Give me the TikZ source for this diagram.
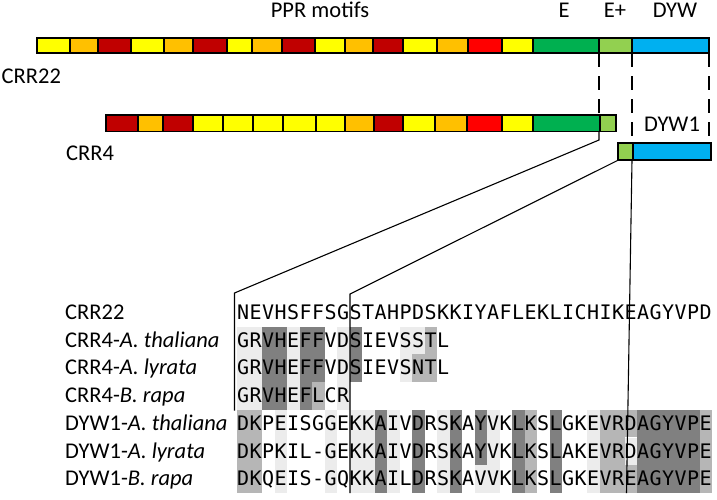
\documentclass[tikz,border=0pt]{standalone}
\usepackage{fontspec}
\setmainfont{Carlito}
\newfontfamily\alfont{DejaVu Sans Mono}
\definecolor{cy}{RGB}{255,255,0}
\definecolor{co}{RGB}{255,192,0}
\definecolor{cdr}{RGB}{192,0,0}
\definecolor{cr}{RGB}{255,0,0}
\definecolor{cg}{RGB}{0,176,80}
\definecolor{clg}{RGB}{146,208,80}
\definecolor{cb}{RGB}{0,176,240}
\definecolor{shl}{RGB}{236,236,236}
\definecolor{shm}{RGB}{182,182,182}
\definecolor{shd}{RGB}{128,128,128}
\newcommand\alrow[2]{\foreach \ch [count=\i from 0] in {#2} {\node[aa] (r#1c\i) at ({243.25+12.5*\i},{319.5+27.7*#1}) {\ch};}}
\newcommand\albox[5]{\fill[#5] ({237+12.5*#1},{299+27.7*#3}) rectangle ({237+12.5*(#2+1)},{326.5+27.7*#4});}
\begin{document}
\begin{tikzpicture}[x=1pt,y=-1pt,
  barseg/.style={draw=black, line width=1.6pt},
  lbl/.style={font=\fontsize{22.5}{26}\selectfont, inner sep=0pt, anchor=base},
  lblw/.style={lbl, anchor=base west},
  aa/.style={font=\alfont\fontsize{20}{22}\selectfont, inner sep=0pt, anchor=base},
  conn/.style={line width=1.1pt},
  dashconn/.style={line width=1.6pt, dash pattern=on 14pt off 9pt}]
\useasboundingbox (0,0) rectangle (717,499);

% ---- bars
\foreach \a/\b/\col in {37/70/cy, 70/98/co, 98/131/cdr, 131/164/cy, 164/193/co, 193/227/cdr, 227/252/cy, 252/282/co, 282/315/cdr, 315/345/cy, 345/373/co, 373/403/cdr, 403/437/cy, 437/468/co, 468/502/cr, 502/533/cy, 533/599/cg, 599/632/clg, 632/709/cb}
  \filldraw[barseg, fill=\col] (\a,38) rectangle (\b,53);
\foreach \a/\b/\col in {106/138/cdr, 138/163/co, 163/193/cdr, 193/223/cy, 223/253/cy, 253/283/cy, 283/316/cy, 316/345/cy, 345/374/co, 374/403/cdr, 403/435/cy, 435/467/co, 467/502/cr, 502/533/cy, 533/600/cg, 600/616/clg}
  \filldraw[barseg, fill=\col] (\a,115) rectangle (\b,131.5);
\foreach \a/\b/\col in {618/633/clg, 633/711/cb}
  \filldraw[barseg, fill=\col] (\a,143) rectangle (\b,160);

% ---- top labels
\node[lbl] (ppr) at (320,17.5) {PPR motifs};
\node[lbl] (le) at (564,17.5) {E};
\node[lbl] (lep) at (615,17.5) {E+};
\node[lbl] (ldyw) at (675,17.5) {DYW};
\node[lblw] (lcrr22) at (1.5,83) {CRR22};
\node[lblw] (lcrr4) at (66,160.5) {CRR4};
\node[lbl] (ldyw1) at (672,131.5) {DYW1};

% ---- alignment shading
% CRR4 block
\albox{0}{1}{1}{3}{shl}
\albox{2}{3}{1}{3}{shd}
\albox{4}{4}{1}{3}{shl}
\albox{5}{5}{1}{3}{shd}
\albox{6}{6}{1}{2}{shd}
\albox{6}{6}{3}{3}{shm}
\albox{8}{8}{1}{3}{shl}
\albox{9}{9}{1}{2}{shd}
\albox{13}{13}{1}{2}{shl}
\albox{14}{14}{1}{1}{shl}
\albox{14}{14}{2}{2}{shm}
\albox{15}{15}{1}{2}{shm}
% DYW1 block
\albox{0}{1}{4}{6}{shm}
\albox{3}{3}{4}{6}{shl}
\albox{7}{7}{4}{6}{shl}
\albox{9}{10}{4}{6}{shl}
\albox{11}{11}{4}{6}{shd}
\albox{12}{12}{4}{6}{shl}
\albox{14}{14}{4}{6}{shd}
\albox{16}{16}{4}{6}{shl}
\albox{17}{17}{4}{6}{shd}
\albox{19}{19}{4}{5}{shd}
\albox{19}{19}{6}{6}{shl}
\albox{20}{20}{4}{6}{shl}
\albox{22}{22}{4}{6}{shd}
\albox{23}{23}{4}{6}{shm}
\albox{25}{25}{4}{6}{shd}
\albox{28}{28}{4}{6}{shl}
\albox{29}{30}{4}{6}{shm}
\albox{31}{31}{4}{4}{shm}
\albox{31}{31}{5}{5}{shl}
\albox{31}{31}{6}{6}{shm}
\albox{32}{36}{4}{6}{shd}
\albox{37}{37}{4}{6}{shm}

% ---- connectors
\coordinate (a1) at (599,53); \coordinate (a2) at (599,115);
\coordinate (b1) at (632,53); \coordinate (b2) at (632,143);
\coordinate (c1) at (709,53); \coordinate (c2) at (709,143);
\draw[dashconn] (a1) -- (a2);
\draw[dashconn] (b1) -- (b2);
\draw[dashconn] (c1) -- (c2);
\coordinate (p1) at (599,132); \coordinate (p2) at (599,140);
\coordinate (p3) at (234.5,293); \coordinate (p4) at (234.5,410.5);
\draw[conn] (p1) -- (p2) -- (p3) -- (p4);
\coordinate (q1) at (618.5,160); \coordinate (q2) at (350,294); \coordinate (q3) at (350,493);
\draw[conn] (q1) -- (q2) -- (q3);
\coordinate (s1) at (632,160); \coordinate (s2) at (626.5,493);
\draw[conn] (s1) -- (s2);

% ---- alignment labels
\node[lblw] (n0) at (65,{319.5+27.7*0}) {CRR22};
\node[lblw] (n1) at (65,{319.5+27.7*1}) {CRR4-\textit{A. thaliana}};
\node[lblw] (n2) at (65,{319.5+27.7*2}) {CRR4-\textit{A. lyrata}};
\node[lblw] (n3) at (65,{319.5+27.7*3}) {CRR4-\textit{B. rapa}};
\node[lblw] (n4) at (65,{319.5+27.7*4}) {DYW1-\textit{A. thaliana}};
\node[lblw] (n5) at (65,{319.5+27.7*5}) {DYW1-\textit{A. lyrata}};
\node[lblw] (n6) at (65,{319.5+27.7*6}) {DYW1-\textit{B. rapa}};

% ---- sequences
\alrow{0}{N,E,V,H,S,F,F,S,G,S,T,A,H,P,D,S,K,K,I,Y,A,F,L,E,K,L,I,C,H,I,K,E,A,G,Y,V,P,D}
\alrow{1}{G,R,V,H,E,F,F,V,D,S,I,E,V,S,S,T,L}
\alrow{2}{G,R,V,H,E,F,F,V,D,S,I,E,V,S,N,T,L}
\alrow{3}{G,R,V,H,E,F,L,C,R}
\alrow{4}{D,K,P,E,I,S,G,G,E,K,K,A,I,V,D,R,S,K,A,Y,V,K,L,K,S,L,G,K,E,V,R,D,A,G,Y,V,P,E}
\alrow{5}{D,K,P,K,I,L,-,G,E,K,K,A,I,V,D,R,S,K,A,Y,V,K,L,K,S,L,A,K,E,V,R,D,A,G,Y,V,P,E}
\alrow{6}{D,K,Q,E,I,S,-,G,Q,K,K,A,I,L,D,R,S,K,A,V,V,K,L,K,S,L,G,K,E,V,R,E,A,G,Y,V,P,E}
\end{tikzpicture}
\end{document}
